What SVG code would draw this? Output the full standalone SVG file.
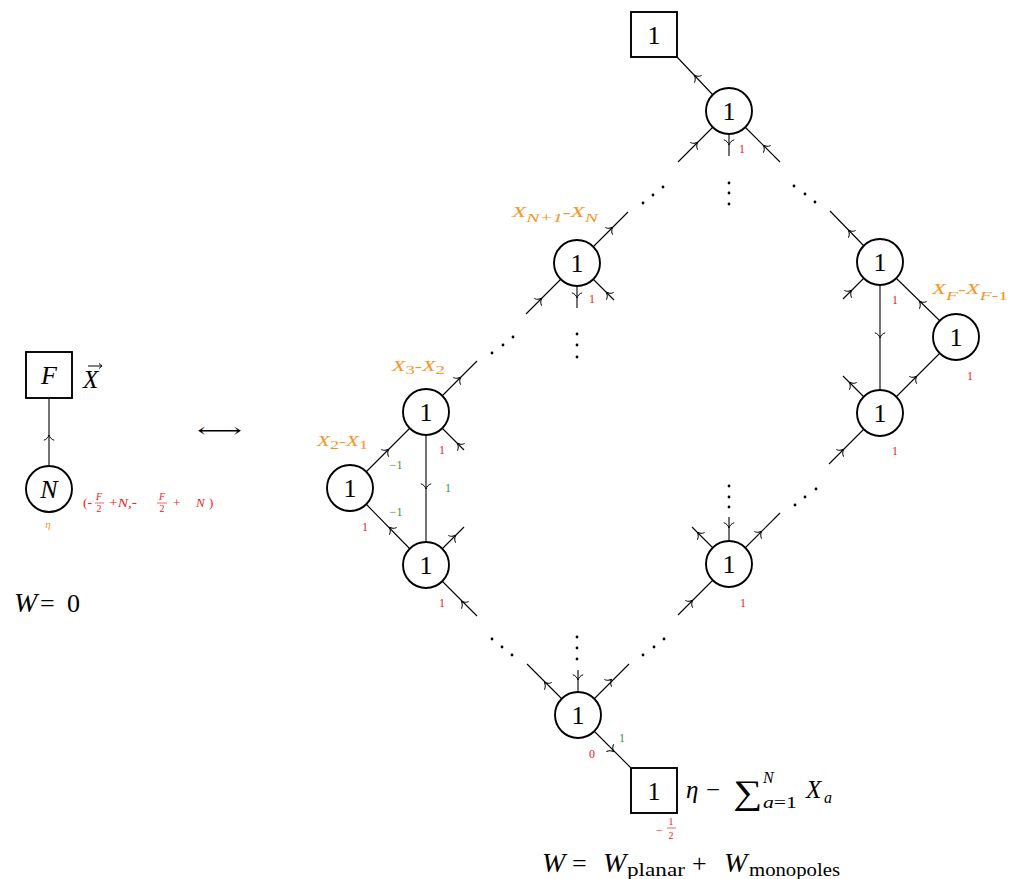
<svg xmlns="http://www.w3.org/2000/svg" xmlns:xlink="http://www.w3.org/1999/xlink" width="1010" height="879" viewBox="0 0 1010 879">
<style>
.n{fill:#fff;stroke:#000;stroke-width:1.9}
.b{fill:#fff;stroke:#000;stroke-width:1.9}
.e{stroke:#000;stroke-width:1.1;fill:none}
.t{font-family:"Liberation Serif","DejaVu Serif",serif;font-size:26px;fill:#000;text-anchor:middle}
.m{font-family:"Liberation Serif","DejaVu Serif",serif;fill:#000}
.i{font-style:italic}
.r{font-family:"Liberation Serif","DejaVu Serif",serif;font-size:12px;fill:#f02020;text-anchor:middle}
.g{font-family:"Liberation Serif","DejaVu Serif",serif;font-size:12px;fill:#3f8f3f;text-anchor:middle}
.o{font-family:"Liberation Serif","DejaVu Serif",serif;font-size:14px;fill:#f7941d;font-style:italic}
.d{fill:#000}
</style>
<defs>
<path id="ah" d="M-4.2,-5.2 C-3.8,-2.7 -1,-0.5 1,0 C-1,0.5 -3.8,2.7 -4.2,5.2" fill="none" stroke="#000" stroke-width="1"/>
</defs>

<g id="connectors">
<line class="e" x1="49" y1="398" x2="49" y2="466"/>
<use xlink:href="#ah" transform="translate(49,436) rotate(-90)"/>
<line class="e" x1="677" y1="57" x2="713" y2="95"/>
<use xlink:href="#ah" transform="translate(695,76) rotate(-135)"/>
<line class="e" x1="713" y1="127" x2="678" y2="162"/>
<use xlink:href="#ah" transform="translate(697,143) rotate(-45)"/>
<line class="e" x1="729" y1="134" x2="729" y2="156"/>
<use xlink:href="#ah" transform="translate(729,144) rotate(90)"/>
<line class="e" x1="745" y1="127" x2="780" y2="162"/>
<use xlink:href="#ah" transform="translate(764,146) rotate(-135)"/>
<line class="e" x1="593" y1="247" x2="628" y2="212"/>
<use xlink:href="#ah" transform="translate(612,228) rotate(-45)"/>
<line class="e" x1="561" y1="279" x2="526" y2="314"/>
<use xlink:href="#ah" transform="translate(541,299) rotate(-45)"/>
<line class="e" x1="577" y1="286" x2="577" y2="308"/>
<use xlink:href="#ah" transform="translate(577,297) rotate(90)"/>
<line class="e" x1="593" y1="279" x2="614" y2="300"/>
<use xlink:href="#ah" transform="translate(607,293) rotate(-135)"/>
<line class="e" x1="864" y1="246" x2="830" y2="211"/>
<use xlink:href="#ah" transform="translate(849,231) rotate(-135)"/>
<line class="e" x1="864" y1="278" x2="843" y2="299"/>
<use xlink:href="#ah" transform="translate(851,291) rotate(-45)"/>
<line class="e" x1="880" y1="285" x2="880" y2="390"/>
<use xlink:href="#ah" transform="translate(880,337) rotate(90)"/>
<line class="e" x1="896" y1="278" x2="940" y2="321"/>
<use xlink:href="#ah" transform="translate(920,302) rotate(-135)"/>
<line class="e" x1="896" y1="397" x2="940" y2="353"/>
<use xlink:href="#ah" transform="translate(916,377) rotate(-45)"/>
<line class="e" x1="864" y1="397" x2="843" y2="376"/>
<use xlink:href="#ah" transform="translate(850,383) rotate(-135)"/>
<line class="e" x1="864" y1="429" x2="829" y2="464"/>
<use xlink:href="#ah" transform="translate(843,450) rotate(-45)"/>
<line class="e" x1="442" y1="396" x2="477" y2="361"/>
<use xlink:href="#ah" transform="translate(460,378) rotate(-45)"/>
<line class="e" x1="442" y1="428" x2="464" y2="450"/>
<use xlink:href="#ah" transform="translate(458,444) rotate(-135)"/>
<line class="e" x1="426" y1="435" x2="426" y2="542"/>
<use xlink:href="#ah" transform="translate(426,488) rotate(90)"/>
<line class="e" x1="366" y1="472" x2="410" y2="428"/>
<use xlink:href="#ah" transform="translate(388,450) rotate(-45)"/>
<line class="e" x1="366" y1="504" x2="410" y2="549"/>
<use xlink:href="#ah" transform="translate(390,528) rotate(-135)"/>
<line class="e" x1="442" y1="549" x2="464" y2="527"/>
<use xlink:href="#ah" transform="translate(455,536) rotate(-45)"/>
<line class="e" x1="442" y1="581" x2="477" y2="616"/>
<use xlink:href="#ah" transform="translate(462,602) rotate(-135)"/>
<line class="e" x1="713" y1="548" x2="692" y2="527"/>
<use xlink:href="#ah" transform="translate(698,533) rotate(-135)"/>
<line class="e" x1="729" y1="541" x2="729" y2="517"/>
<use xlink:href="#ah" transform="translate(729,527) rotate(90)"/>
<line class="e" x1="745" y1="548" x2="780" y2="513"/>
<use xlink:href="#ah" transform="translate(761,532) rotate(-45)"/>
<line class="e" x1="713" y1="580" x2="678" y2="615"/>
<use xlink:href="#ah" transform="translate(692,601) rotate(-45)"/>
<line class="e" x1="562" y1="699" x2="527" y2="664"/>
<use xlink:href="#ah" transform="translate(545,683) rotate(-135)"/>
<line class="e" x1="578" y1="692" x2="578" y2="670"/>
<use xlink:href="#ah" transform="translate(578,679) rotate(90)"/>
<line class="e" x1="594" y1="699" x2="629" y2="664"/>
<use xlink:href="#ah" transform="translate(611,680) rotate(-45)"/>
<line class="e" x1="594" y1="731" x2="631" y2="768"/>
<use xlink:href="#ah" transform="translate(613,751) rotate(45)"/>
<circle class="d" cx="643" cy="203" r="1.4"/><circle class="d" cx="653" cy="195" r="1.4"/><circle class="d" cx="663" cy="187" r="1.4"/>
<circle class="d" cx="794" cy="186" r="1.4"/><circle class="d" cx="805" cy="194" r="1.4"/><circle class="d" cx="815" cy="202" r="1.4"/>
<circle class="d" cx="729" cy="183" r="1.4"/><circle class="d" cx="729" cy="193" r="1.4"/><circle class="d" cx="729" cy="204" r="1.4"/>
<circle class="d" cx="492" cy="353" r="1.4"/><circle class="d" cx="503" cy="345" r="1.4"/><circle class="d" cx="513" cy="337" r="1.4"/>
<circle class="d" cx="577" cy="334" r="1.4"/><circle class="d" cx="577" cy="345" r="1.4"/><circle class="d" cx="577" cy="357" r="1.4"/>
<circle class="d" cx="795" cy="505" r="1.4"/><circle class="d" cx="805" cy="497" r="1.4"/><circle class="d" cx="816" cy="489" r="1.4"/>
<circle class="d" cx="729" cy="486" r="1.4"/><circle class="d" cx="729" cy="497" r="1.4"/><circle class="d" cx="729" cy="507" r="1.4"/>
<circle class="d" cx="492" cy="639" r="1.4"/><circle class="d" cx="502" cy="647" r="1.4"/><circle class="d" cx="512" cy="655" r="1.4"/>
<circle class="d" cx="577" cy="637" r="1.4"/><circle class="d" cx="577" cy="648" r="1.4"/><circle class="d" cx="577" cy="659" r="1.4"/>
<circle class="d" cx="643" cy="655" r="1.4"/><circle class="d" cx="654" cy="647" r="1.4"/><circle class="d" cx="664" cy="639" r="1.4"/>
</g>

<g id="node-F">
<rect class="b" x="26" y="352" width="46" height="46"/>
<text class="t i" x="49" y="384">F</text>
<text class="m i" x="83" y="388" font-size="25">X</text>
<path d="M88,366 H102 M99,363.5 L102,366 L99,368.5" fill="none" stroke="#000" stroke-width="1"/>
</g>
<g id="node-N">
<circle class="n" cx="49" cy="489" r="23"/>
<text class="t i" x="49" y="498">N</text>
<text x="48" y="528" font-family="Liberation Serif, serif" font-size="11" font-style="italic" fill="#f7941d" text-anchor="middle">η</text>
<g font-family="Liberation Serif, serif" fill="#f02020" font-size="13">
<text x="83" y="507" textLength="9" lengthAdjust="spacingAndGlyphs">(-</text>
<text x="99" y="500" font-size="10" font-style="italic" text-anchor="middle">F</text>
<line x1="95" y1="503" x2="104" y2="503" stroke="#f02020" stroke-width="0.7"/>
<text x="99" y="512" font-size="10" text-anchor="middle">2</text>
<text x="109" y="507" textLength="28" lengthAdjust="spacingAndGlyphs">+<tspan font-style="italic">N</tspan>,-</text>
<text x="162" y="500" font-size="10" font-style="italic" text-anchor="middle">F</text>
<line x1="157" y1="503" x2="167" y2="503" stroke="#f02020" stroke-width="0.7"/>
<text x="162" y="512" font-size="10" text-anchor="middle">2</text>
<text x="173" y="507">+</text>
<text x="196" y="507" font-style="italic">N</text>
<text x="209" y="507">)</text>
</g>
</g>
<text class="m" x="197" y="437" font-family="DejaVu Sans, sans-serif" font-size="20" textLength="45" lengthAdjust="spacingAndGlyphs">⟷</text>
<text class="m i" x="14" y="612" font-size="28">W</text>
<text class="m" x="40" y="612" font-size="26">=</text>
<text class="m" x="67" y="612" font-size="26">0</text>

<g id="box-top">
<rect class="b" x="631" y="12" width="46" height="45"/>
<text class="t" x="654" y="44">1</text>
</g>
<g id="node-T">
<circle class="n" cx="729" cy="111" r="23"/>
<text class="t" x="729" y="120">1</text>
<text class="r" x="742" y="153">1</text>
</g>
<g id="node-L1">
<circle class="n" cx="577" cy="263" r="23"/>
<text class="t" x="577" y="272">1</text>
<text class="r" x="592" y="303">1</text>
<text class="o" x="512" y="217" textLength="86" lengthAdjust="spacingAndGlyphs">X<tspan dy="5" font-size="12">N+1</tspan><tspan dy="-5" font-style="normal">-</tspan>X<tspan dy="5" font-size="12">N</tspan></text>
</g>
<g id="node-R1">
<circle class="n" cx="880" cy="262" r="23"/>
<text class="t" x="880" y="271">1</text>
<text class="r" x="895" y="304">1</text>
<text class="o" x="932" y="294" textLength="76" lengthAdjust="spacingAndGlyphs">X<tspan dy="6" font-size="12">F</tspan><tspan dy="-6" font-style="normal">-</tspan>X<tspan dy="6" font-size="12">F</tspan><tspan font-style="normal" font-size="12">-1</tspan></text>
</g>
<g id="node-R2">
<circle class="n" cx="956" cy="337" r="23"/>
<text class="t" x="956" y="346">1</text>
<text class="r" x="970" y="380">1</text>
</g>
<g id="node-R3">
<circle class="n" cx="880" cy="413" r="23"/>
<text class="t" x="880" y="422">1</text>
<text class="r" x="895" y="455">1</text>
</g>
<g id="node-A">
<circle class="n" cx="426" cy="412" r="23"/>
<text class="t" x="426" y="421">1</text>
<text class="r" x="442" y="454">1</text>
<text class="o" x="392" y="371" textLength="53" lengthAdjust="spacingAndGlyphs">X<tspan dy="3" font-size="12" font-style="normal">3</tspan><tspan dy="-3" font-style="normal">-</tspan>X<tspan dy="3" font-size="12" font-style="normal">2</tspan></text>
<text class="g" x="448" y="492">1</text>
</g>
<g id="node-B">
<circle class="n" cx="350" cy="488" r="23"/>
<text class="t" x="350" y="497">1</text>
<text class="o" x="317" y="446" textLength="51" lengthAdjust="spacingAndGlyphs">X<tspan dy="3" font-size="12" font-style="normal">2</tspan><tspan dy="-3" font-style="normal">-</tspan>X<tspan dy="3" font-size="12" font-style="normal">1</tspan></text>
<text class="g" x="396" y="469">−1</text>
<text class="g" x="396" y="516">−1</text>
<text class="r" x="365" y="531">1</text>
</g>
<g id="node-C">
<circle class="n" cx="426" cy="565" r="23"/>
<text class="t" x="426" y="574">1</text>
<text class="r" x="442" y="607">1</text>
</g>
<g id="node-D">
<circle class="n" cx="729" cy="564" r="23"/>
<text class="t" x="729" y="573">1</text>
<text class="r" x="743" y="607">1</text>
</g>
<g id="node-Bo">
<circle class="n" cx="578" cy="715" r="23"/>
<text class="t" x="578" y="724">1</text>
<text class="g" x="622" y="742">1</text>
<text class="r" x="592" y="758">0</text>
</g>
<g id="box-bottom">
<rect class="b" x="631" y="768" width="46" height="45"/>
<text class="t" x="654" y="800">1</text>
<g font-family="Liberation Serif, serif" fill="#f02020">
<text x="656" y="834" font-size="12">−</text>
<text x="671" y="825" font-size="10" text-anchor="middle">1</text>
<line x1="667" y1="828" x2="676" y2="828" stroke="#f02020" stroke-width="0.7"/>
<text x="671" y="839" font-size="10" text-anchor="middle">2</text>
</g>
<text class="m i" x="686" y="798" font-size="25">η</text>
<text class="m" x="706" y="798" font-size="25">−</text>
<text class="m" x="733" y="804" font-size="34" textLength="29" lengthAdjust="spacingAndGlyphs">∑</text>
<text class="m i" x="763" y="783" font-size="16">N</text>
<text class="m" x="763" y="808" font-size="16" textLength="34" lengthAdjust="spacingAndGlyphs"><tspan font-style="italic">a</tspan>=1</text>
<text class="m i" x="806" y="798" font-size="25">X</text>
<text class="m i" x="824" y="803" font-size="16">a</text>
</g>
<g id="superpotential">
<text class="m i" x="542" y="872" font-size="28">W</text>
<text class="m" x="572" y="872" font-size="26">=</text>
<text class="m i" x="603" y="872" font-size="28">W</text>
<text class="m" x="627" y="876" font-size="18" textLength="58" lengthAdjust="spacingAndGlyphs">planar</text>
<text class="m" x="692" y="872" font-size="26">+</text>
<text class="m i" x="724" y="872" font-size="28">W</text>
<text class="m" x="749" y="876" font-size="18" textLength="91" lengthAdjust="spacingAndGlyphs">monopoles</text>
</g>
</svg>
